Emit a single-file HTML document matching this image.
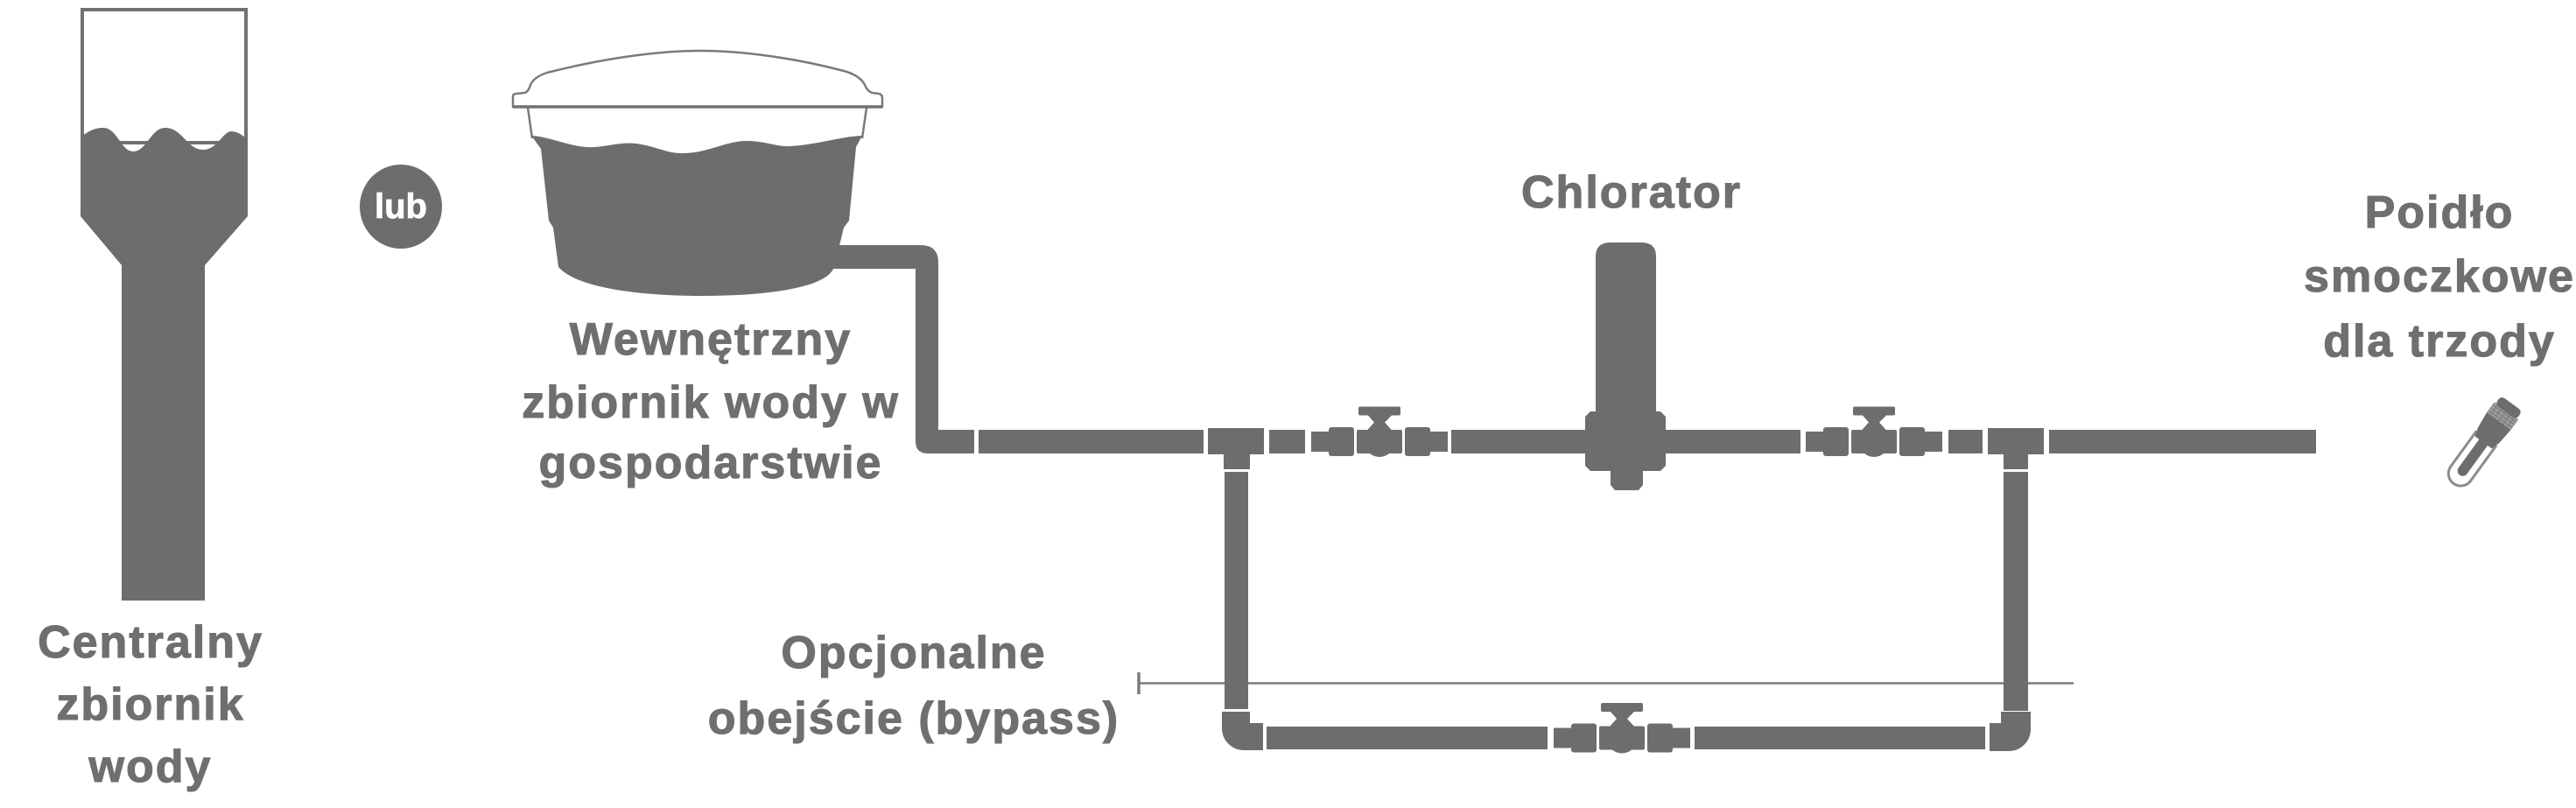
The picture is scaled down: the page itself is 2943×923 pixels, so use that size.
<!DOCTYPE html>
<html>
<head>
<meta charset="utf-8">
<style>
html,body{margin:0;padding:0;background:#ffffff;}
svg{display:block;}
.t{font-family:"Liberation Sans","DejaVu Sans",sans-serif;font-weight:700;font-size:52px;fill:#6f6f6f;stroke:#6f6f6f;stroke-width:1.1px;letter-spacing:2px;text-anchor:middle;}
</style>
</head>
<body>
<svg width="2943" height="923" viewBox="0 0 2943 923" xmlns="http://www.w3.org/2000/svg">
<defs>
  <g id="valve" fill="#6d6d6d">
    <rect x="-78" y="-11.5" width="22" height="23"/>
    <rect x="-58" y="-16.5" width="29" height="33" rx="3"/>
    <rect x="-26" y="-13.5" width="52" height="27" rx="2"/>
    <circle cx="0" cy="0" r="17.5"/>
    <path d="M-13,-30 L14,-30 L6,-22 L15,-12 L-15,-12 L-6,-22 Z"/>
    <rect x="-24" y="-40" width="48" height="10" rx="2"/>
    <rect x="29" y="-16.5" width="29" height="33" rx="3"/>
    <rect x="56" y="-11.5" width="22" height="23"/>
  </g>
</defs>

<!-- Central water tower -->
<rect x="94" y="11" width="187" height="152" fill="none" stroke="#727272" stroke-width="4"/>
<path fill="#6d6d6d" d="M92,157 C100,150 108,146 118,146 C134,146 138,173 152,173 C168,173 172,146 189,146 C208,146 214,171 232,171 C248,171 254,151 264,150 C272,150 277,155 283,159 L283,247 L234,303 L234,686 L139,686 L139,303 L92,247 Z"/>

<!-- lub -->
<ellipse cx="458" cy="236" rx="47" ry="48" fill="#6d6d6d"/>
<text x="458" y="249" style="font-family:'Liberation Sans','DejaVu Sans',sans-serif;font-weight:700;font-size:40px;fill:#ffffff;stroke:#ffffff;stroke-width:0.8px;text-anchor:middle;">lub</text>

<!-- Farm tank -->
<line x1="603" y1="123" x2="608" y2="158" stroke="#7a7a7a" stroke-width="2.5"/>
<line x1="990" y1="123" x2="985" y2="158" stroke="#7a7a7a" stroke-width="2.5"/>
<path fill="#ffffff" stroke="#7a7a7a" stroke-width="2.5" stroke-linejoin="round" d="M586,122 L586,111 Q586,107 590,107 L600,106 Q604,104 606,97 Q610,88 625,83 C700,64 760,58 800,58 C850,58 910,67 960,80 Q982,85 988,97 Q991,104 996,106 L1004,107 Q1008,108 1008,112 L1008,122 Z"/>
<line x1="586" y1="122" x2="1008" y2="122" stroke="#707070" stroke-width="3.5"/>
<path fill="#6d6d6d" d="M607,155 C630,156 655,170 680,168 C700,166 712,162 727,164 C750,167 762,176 783,175 C810,174 830,161 853,161 C875,161 887,168 903,167 C935,165 960,156 985,155 L978,168 L970,252 L964,260 L953,305 C945,330 870,338 803,338 C736,338 660,330 638,305 L632,260 L627,252 L618,170 Z"/>

<!-- pipe from tank -->
<path fill="#6d6d6d" d="M945,280 L1052,280 Q1072,280 1072,300 L1072,491 L1113,491 L1113,518 L1060,518 Q1046,518 1046,504 L1046,307 L945,307 Z"/>

<!-- thin bypass marker line -->
<line x1="1301" y1="780.5" x2="2369" y2="780.5" stroke="#7c7c7c" stroke-width="2.5"/>
<line x1="1301" y1="768" x2="1301" y2="793" stroke="#7c7c7c" stroke-width="3.5"/>

<!-- main line -->
<g fill="#6d6d6d">
  <rect x="1118" y="491" width="257" height="27"/>
  <rect x="1380" y="489" width="64" height="30"/>
  <rect x="1398" y="518" width="30" height="18"/>
  <rect x="1450" y="491" width="41" height="27"/>
  <rect x="1658" y="491" width="160" height="27"/>
  <rect x="1895" y="491" width="162" height="27"/>
  <rect x="2226" y="491" width="39" height="27"/>
  <rect x="2271" y="489" width="64" height="30"/>
  <rect x="2289" y="518" width="28" height="18"/>
  <rect x="2341" y="491" width="305" height="27"/>

  <!-- chlorator -->
  <path d="M1823,472 L1823,293 Q1823,277 1840,277 L1875,277 Q1892,277 1892,293 L1892,472 Z"/>
  <polygon points="1817,470 1897,470 1903,476 1903,532 1897,538 1817,538 1811,532 1811,476"/>
  <polygon points="1840,536 1877,536 1877,554 1872,560 1845,560 1840,554"/>

  <!-- bypass verticals -->
  <rect x="1399" y="539" width="27" height="271"/>
  <rect x="2289" y="539" width="28" height="273"/>

  <!-- elbows -->
  <path d="M1396,813 L1428,813 L1428,826 L1443,826 L1443,857 L1421,857 A25 25 0 0 1 1396,832 Z"/>
  <path d="M2320,813 L2286,813 L2286,826 L2273,826 L2273,858 L2295,858 A25 25 0 0 0 2320,833 Z"/>

  <!-- bypass bottom -->
  <rect x="1447" y="830" width="321" height="26"/>
  <rect x="1936" y="830" width="332" height="26"/>
</g>

<use href="#valve" transform="translate(1576,504.5)"/>
<use href="#valve" transform="translate(2141,504.5)"/>
<use href="#valve" transform="translate(1853,843)"/>

<!-- nipple drinker -->
<g transform="translate(2836,507) rotate(36)">
  <path d="M-14,-8 L-14,42 A14 14 0 0 0 14,42 L14,-8" fill="#ffffff" stroke="#8c8c8c" stroke-width="3"/>
  <rect x="-6" y="-10" width="12" height="54" rx="6" fill="#6d6d6d"/>
  <path d="M-17,-33 L17,-33 L15,-12 L12,-2 L-12,-2 L-15,-12 Z" fill="#6d6d6d"/>
  <rect x="-17" y="-47" width="34" height="15" fill="#9c9c9c"/>
  <path d="M-17,-43 H17 M-17,-39 H17 M-17,-35 H17 M-12,-47 V-32 M-6,-47 V-32 M0,-47 V-32 M6,-47 V-32 M12,-47 V-32" stroke="#7e7e7e" stroke-width="1.2"/>
  <rect x="-15" y="-57" width="30" height="12" rx="5" fill="#6d6d6d"/>
</g>

<!-- labels -->
<text class="t" x="172" y="751">Centralny</text>
<text class="t" x="172" y="822">zbiornik</text>
<text class="t" x="172" y="893">wody</text>

<text class="t" x="812" y="405">Wewnętrzny</text>
<text class="t" x="812" y="477">zbiornik wody w</text>
<text class="t" x="812" y="546">gospodarstwie</text>

<text class="t" x="1864" y="237">Chlorator</text>

<text class="t" x="2787" y="260">Poidło</text>
<text class="t" x="2787" y="333">smoczkowe</text>
<text class="t" x="2787" y="407">dla trzody</text>

<text class="t" x="1044" y="763">Opcjonalne</text>
<text class="t" x="1044" y="838">obejście (bypass)</text>
</svg>
</body>
</html>
